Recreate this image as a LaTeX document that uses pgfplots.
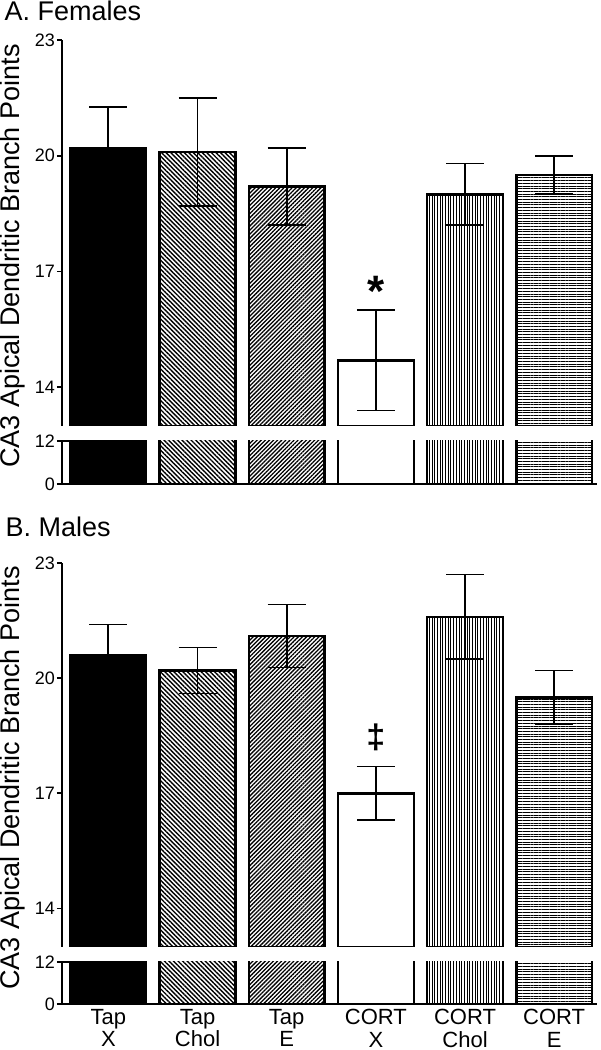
\documentclass[border=0pt]{standalone}
\usepackage{pgfplots}
\pgfplotsset{compat=1.18}
\usepackage{fontspec}
\setmainfont{Liberation Sans}
\usetikzlibrary{patterns.meta}

\tikzset{
  p0/.style={fill=black},
  p1/.style={pattern={Lines[angle=-45,distance=3.2pt,line width=1.4pt]}},
  p2/.style={pattern={Lines[angle=45,distance=2.9pt,line width=1.3pt]}},
  p3/.style={fill=white},
  p4/.style={pattern={Lines[angle=90,distance=2.7pt,line width=0.9pt]}},
  p5/.style={pattern={Lines[angle=0,distance=2.7pt,line width=0.9pt]}},
}
\pgfplotsset{
  brk/.style={
    scale only axis, width=535pt, xmin=-0.52, xmax=5.48,
    anchor=south west,
    axis y line=left,
    ytick style={line width=1.8pt, black},
    tick align=outside, major tick length=5pt,
    yticklabel style={font=\fontsize{18}{18}\selectfont, inner sep=2pt},
    /pgf/number format/assume math mode=true,
  },
  upper/.style={brk, axis x line=none, ymin=13, ymax=23, ytick={14,17,20,23}, height=386pt,
    axis line style={-, line width=2.4pt}},
  lower/.style={brk, axis x line=bottom, ymin=0, ymax=12, ytick={0,12}, xtick={0,1,2,3,4,5},
    x tick style={draw=none}, xticklabels={},
    axis line style={-, line width=2.4pt},
    x axis line style={-}, y axis line style={-}},
}
% bar with error bar (upper part)
\newcommand{\ebar}[4]{\addplot[ybar, bar width=0.85, bar shift=0pt, draw=black, line width=2.4pt, #1,
   error bars/.cd, y dir=both, y explicit,
   error bar style={line width=1.8pt, black},
   error mark options={rotate=90, line width=1.8pt, mark size=19pt, black}]
   coordinates {(#2,#3) +- (0,#4)};}
% bar without error bar (lower part)
\newcommand{\pbar}[3]{\addplot[ybar, bar width=0.85, bar shift=0pt, draw=black, line width=2.4pt, #1]
   coordinates {(#2,#3)};}

\begin{document}
\begin{tikzpicture}
\useasboundingbox (0,0) rectangle (601pt,1050pt);

% ---------- Panel A ----------
\node[anchor=base west, font=\fontsize{27}{27}\selectfont] at (1pt,1029pt) {A. Females};
\node[rotate=90, font=\fontsize{27}{27}\selectfont] at (12.5pt,794pt) {CA3 Apical Dendritic Branch Points};

\begin{axis}[upper, at={(62pt,624pt)}]
\ebar{p0}{0}{20.2}{1.07}
\ebar{p1}{1}{20.1}{1.4}
\ebar{p2}{2}{19.2}{1.0}
\ebar{p3}{3}{14.7}{1.3}
\ebar{p4}{4}{19.0}{0.8}
\ebar{p5}{5}{19.5}{0.5}
\node[font=\bfseries\fontsize{44}{44}\selectfont] at (axis cs:3,16.5) {*};
\draw[line width=2.2pt] (rel axis cs:0,0) ++(-4.5pt,0) -- ++(9pt,0);
\end{axis}

\begin{axis}[lower, at={(62pt,566pt)}, height=43pt]
\pbar{p0}{0}{20.2}
\pbar{p1}{1}{20.1}
\pbar{p2}{2}{19.2}
\pbar{p3}{3}{14.7}
\pbar{p4}{4}{19.0}
\pbar{p5}{5}{19.5}
\draw[line width=1.8pt] (rel axis cs:0,1) -- ++(4.5pt,0);
\end{axis}

% ---------- Panel B ----------
\node[anchor=base west, font=\fontsize{27}{27}\selectfont] at (2pt,513pt) {B. Males};
\node[rotate=90, font=\fontsize{27}{27}\selectfont] at (12.5pt,272pt) {CA3 Apical Dendritic Branch Points};

\begin{axis}[upper, at={(62pt,103pt)}, height=384pt]
\ebar{p0}{0}{20.6}{0.8}
\ebar{p1}{1}{20.2}{0.6}
\ebar{p2}{2}{21.1}{0.82}
\ebar{p3}{3}{17.0}{0.7}
\ebar{p4}{4}{21.6}{1.1}
\ebar{p5}{5}{19.5}{0.7}
\node[font=\bfseries\fontsize{34}{34}\selectfont] at (axis cs:3,18.45) {‡};
\draw[line width=2.2pt] (rel axis cs:0,0) ++(-4.5pt,0) -- ++(9pt,0);
\end{axis}

\begin{axis}[lower, at={(62pt,46pt)}, height=42pt,
  xticklabels={{Tap\\X},{Tap\\Chol},{Tap\\E},{CORT\\X},{CORT\\Chol},{CORT\\E}},
  xticklabel style={align=center, font=\fontsize{22}{22.5}\selectfont, inner sep=0pt, yshift=-2.5pt}]
\pbar{p0}{0}{20.6}
\pbar{p1}{1}{20.2}
\pbar{p2}{2}{21.1}
\pbar{p3}{3}{17.0}
\pbar{p4}{4}{21.6}
\pbar{p5}{5}{19.5}
\draw[line width=1.8pt] (rel axis cs:0,1) -- ++(4.5pt,0);
\end{axis}
\end{tikzpicture}
\end{document}
